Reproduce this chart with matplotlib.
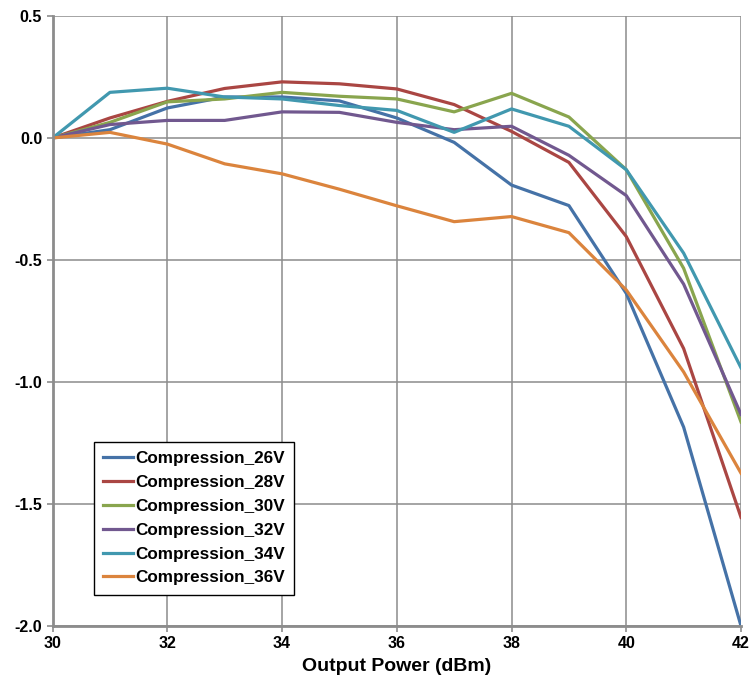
import matplotlib
matplotlib.use("Agg")
import matplotlib.pyplot as plt

plt.rcParams["font.family"] = ["Liberation Sans", "DejaVu Sans"]

x = [30, 31, 32, 33, 34, 35, 36, 37, 38, 39, 40, 41, 42]
v26 = [0.0, 0.034, 0.123, 0.168, 0.168, 0.152, 0.082, -0.018, -0.193, -0.277, -0.637, -1.185, -2.0]
v28 = [0.0, 0.082, 0.150, 0.203, 0.230, 0.222, 0.201, 0.137, 0.027, -0.100, -0.404, -0.863, -1.555]
v30 = [0.0, 0.064, 0.148, 0.160, 0.187, 0.171, 0.160, 0.107, 0.183, 0.086, -0.130, -0.534, -1.164]
v32 = [0.0, 0.055, 0.072, 0.072, 0.107, 0.105, 0.064, 0.034, 0.048, -0.071, -0.236, -0.599, -1.133]
v34 = [0.0, 0.187, 0.204, 0.168, 0.160, 0.133, 0.113, 0.023, 0.119, 0.048, -0.130, -0.472, -0.942]
v36 = [0.0, 0.023, -0.025, -0.106, -0.147, -0.210, -0.278, -0.343, -0.322, -0.388, -0.623, -0.959, -1.374]

labels = ["Compression_26V", "Compression_28V", "Compression_30V",
          "Compression_32V", "Compression_34V", "Compression_36V"]
series = [v26, v28, v30, v32, v34, v36]
colors = ["#4572A7", "#AA4643", "#89A54E", "#71588F", "#4198AF", "#DB843D"]

xticks = [30, 32, 34, 36, 38, 40, 42]
yticks = [0.5, 0.0, -0.5, -1.0, -1.5, -2.0]

fig = plt.figure(figsize=(7.51, 6.83), dpi=100)
ax = fig.add_axes([0.070, 0.0835, 0.9167, 0.8931])

for s, lab, c in zip(series, labels, colors):
    ax.plot(x, s, color=c, lw=2.3, label=lab)

ax.set_xlim(30, 42)
ax.set_ylim(-2.0, 0.5)
ax.set_xticks(xticks)
ax.set_yticks(yticks)
ax.set_xticklabels([str(t) for t in xticks], fontweight="bold", fontsize=11.5)
ax.set_yticklabels([f"{t:.1f}" for t in yticks], fontweight="bold", fontsize=11.5)
ax.grid(True, color="#8c8c8c", lw=1.1)
ax.set_axisbelow(True)
for sp in ["top", "right"]:
    ax.spines[sp].set_visible(False)
for sp in ["left", "bottom"]:
    ax.spines[sp].set_color("#8c8c8c")
    ax.spines[sp].set_linewidth(2)
ax.tick_params(axis="both", colors="#8c8c8c", length=4, width=1.2, labelcolor="black")
ax.set_xlabel("Output Power (dBm)", fontweight="bold", fontsize=14, labelpad=5)

leg = ax.legend(loc="lower left", bbox_to_anchor=(0.060, 0.051), frameon=True,
                fancybox=False, edgecolor="black", framealpha=1,
                prop={"weight": "bold", "size": 12.3}, handlelength=1.75,
                handletextpad=0.12, labelspacing=0.52, borderpad=0.55,
                borderaxespad=0)
leg.get_frame().set_linewidth(1.0)

fig.savefig("out.png", dpi=100)
